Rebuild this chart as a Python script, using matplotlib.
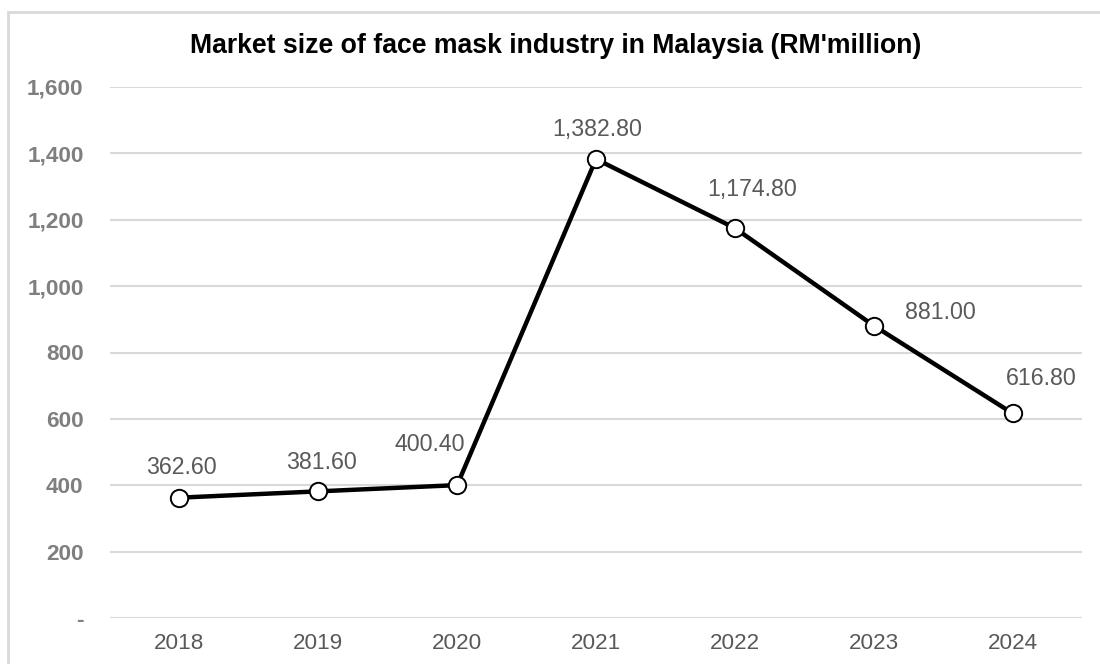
import matplotlib
matplotlib.use("Agg")
import matplotlib.pyplot as plt
from matplotlib.patches import Rectangle
from matplotlib.ticker import FuncFormatter

years = ["2018", "2019", "2020", "2021", "2022", "2023", "2024"]
market_size = [362.60, 381.60, 400.40, 1382.80, 1174.80, 881.00, 616.80]
value_labels = ["362.60", "381.60", "400.40", "1,382.80", "1,174.80", "881.00", "616.80"]
y_ticks = [0, 200, 400, 600, 800, 1000, 1200, 1400, 1600]
title = "Market size of face mask industry in Malaysia (RM'million)"

# label offsets in pixels (dx, dy) relative to each point
label_offsets = [(2, 30), (3, 29), (-27, 41), (1, 30), (17, 39), (67, 13), (29, 35)]

plt.rcParams['font.family'] = ['Liberation Sans', 'DejaVu Sans']

fig = plt.figure(figsize=(11, 6.64), dpi=100)
W, H = 1100, 664
ax = fig.add_axes([110 / W, 1 - 618 / H, (1082 - 110) / W, (618 - 87) / H])

x = list(range(len(years)))
ax.plot(x, market_size, color='black', lw=3.2, marker='o', ms=12.5,
        mfc='white', mec='black', mew=1.4, zorder=3, solid_capstyle='round')

for xi, yi, lab, (dx, dy) in zip(x, market_size, value_labels, label_offsets):
    ax.annotate(lab, (xi, yi), xytext=(dx * 0.72, dy * 0.72), textcoords='offset points',
                ha='center', va='center', fontsize=16.7, color='#595959')

ax.set_xlim(-0.5, len(years) - 0.5)
ax.set_ylim(0, 1600)
ax.set_yticks(y_ticks)
ax.yaxis.set_major_formatter(FuncFormatter(lambda v, p: '-' if v == 0 else f"{v:,.0f}"))
ax.set_xticks(x)
ax.set_xticklabels(years)

ax.grid(axis='y', color='#d9d9d9', lw=1.5)
ax.set_axisbelow(True)
for s in ax.spines.values():
    s.set_visible(False)
ax.tick_params(axis='both', length=0)
ax.tick_params(axis='y', pad=19, labelsize=16.2, labelcolor='#7f7f7f')
ax.tick_params(axis='x', pad=11, labelsize=16.2, labelcolor='#595959')
for t in ax.get_yticklabels():
    t.set_fontweight('bold')

fig.text(556 / W, 1 - 46 / H, title, ha='center', va='center', fontsize=19.2,
         fontweight='bold', color='black')

fig.patches.append(Rectangle((8 / W, -0.1), 1.2, 1.1 - 12 / H, transform=fig.transFigure,
                             fill=False, edgecolor='#d9d9d9', lw=2, figure=fig))

fig.savefig("out.png", dpi=100)
